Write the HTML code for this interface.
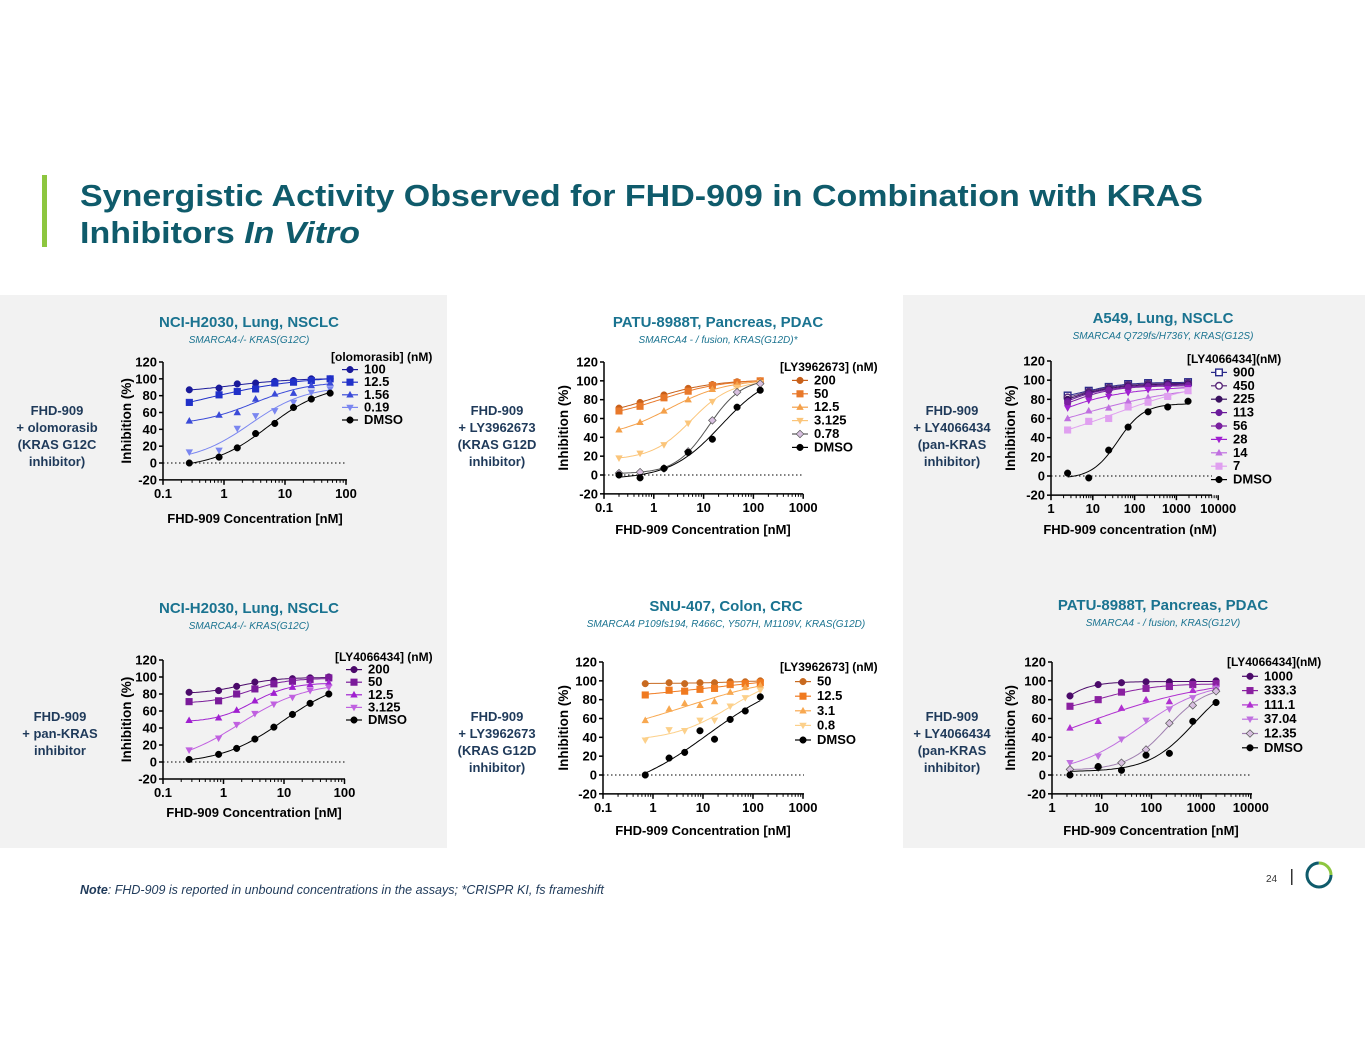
<!DOCTYPE html>
<html><head><meta charset="utf-8"><style>
html,body{margin:0;padding:0;background:#fff;}
svg{display:block;font-family:"Liberation Sans",Arial,sans-serif;}
</style></head><body>
<svg id="page" width="1365" height="1055" viewBox="0 0 1365 1055" xmlns="http://www.w3.org/2000/svg">
<rect x="0" y="295" width="447" height="553" fill="#f2f2f2"/>
<rect x="903" y="295" width="462" height="553" fill="#f2f2f2"/>
<rect x="42" y="175" width="5" height="72" fill="#8dc63f"/>
<g fill="#0f5b6b" font-weight="bold" font-size="31">
<text x="80" y="206" textLength="1123" lengthAdjust="spacingAndGlyphs">Synergistic Activity Observed for FHD-909 in Combination with KRAS</text>
<text x="80" y="243" textLength="280" lengthAdjust="spacingAndGlyphs">Inhibitors <tspan font-style="italic">In Vitro</tspan></text>
</g>
<text x="80" y="894" font-size="12.5" font-style="italic" fill="#1f3a5a"><tspan font-weight="bold">Note</tspan>: FHD-909 is reported in unbound concentrations in the assays; *CRISPR KI, fs frameshift</text>
<text x="1266" y="882" font-size="10" fill="#333">24</text>
<rect x="1291" y="869" width="1.5" height="16" fill="#333"/>
<g>
<circle cx="1319" cy="875" r="12" fill="none" stroke="#0f5b6b" stroke-width="3" stroke-dasharray="56 20"/>
<path d="M1319 863 A12 12 0 0 1 1331 875" fill="none" stroke="#8dc63f" stroke-width="3"/>
</g>
<g id="charts"></g>
</svg>
<script>
// ---------- DATA ----------
const p1X = [0.27,0.83,1.65,3.3,6.8,13.8,27,55];
const p1Labels = ["100","12.5","1.56","0.19","DMSO"];
const p1S100 = [87,89,94,95,97,98,100,100];
const p1S12 = [72,81,85,88,95,96,98,100];
const p1S156 = [50,57,60,76,82,83,92,95];
const p1S019 = [13,15,41,56,62,72,84,88];
const p1DMSO = [0,7,18,35,47,66,76,83];

const p2X = [0.2,0.53,1.6,4.9,15,47,137];
const p2Labels = ["200","50","12.5","3.125","0.78","DMSO"];
const p2S200 = [71,77,85,92,96,99,100];
const p2S50 = [68,73,82,89,95,98,100];
const p2S12 = [48,56,68,80,91,96,99];
const p2S3 = [18,23,32,55,78,93,98];
const p2S078 = [2,3,7,25,58,88,97];
const p2DMSO = [0,-3,7,24,38,72,90];

const p3X = [2.5,8,24,70,210,620,1900];
const p3Labels = ["900","450","225","113","56","28","14","7","DMSO"];
const p3S900 = [84,89,93,96,97,97,98];
const p3S450 = [82,88,92,95,96,96,97];
const p3S225 = [80,87,91,94,95,96,96];
const p3S113 = [78,86,90,93,94,95,95];
const p3S56 = [76,84,89,92,93,94,94];
const p3S28 = [71,79,83,87,90,91,92];
const p3S14 = [60,68,71,78,82,84,89];
const p3S7 = [48,57,60,72,77,83,89];
const p3DMSO = [3,-2,27,51,67,72,78];

const p4X = [0.27,0.83,1.65,3.3,6.8,13.8,27,55];
const p4Labels = ["200","50","12.5","3.125","DMSO"];
const p4S200 = [82,84,89,94,96,98,99,100];
const p4S50 = [71,72,80,86,92,95,97,99];
const p4S12 = [49,52,61,72,81,88,91,93];
const p4S3 = [14,28,44,57,68,76,84,88];
const p4DMSO = [3,9,16,27,41,56,69,80];

const p5X = [0.7,2.1,4.3,8.7,17,35,70,140];
const p5Labels = ["50","12.5","3.1","0.8","DMSO"];
const p5S50 = [97,98,97,98,98,99,99,100];
const p5S12 = [85,90,89,91,92,96,97,98];
const p5S3 = [58,70,76,74,78,88,93,95];
const p5S08 = [37,48,47,58,58,73,82,90];
const p5DMSO = [0,18,24,47,38,59,68,83];

const p6X = [2.3,8.5,25,78,230,680,2000];
const p6Labels = ["1000","333.3","111.1","37.04","12.35","DMSO"];
const p6S1000 = [84,96,98,99,99,99,100];
const p6S333 = [73,80,88,92,94,96,97];
const p6S111 = [50,57,71,80,78,90,93];
const p6S37 = [13,20,38,58,70,82,92];
const p6S12 = [6,8,13,27,55,74,89];
const p6DMSO = [0,9,5,21,23,57,77];

const yTicks = [-20,0,20,40,60,80,100,120];
const p1XTicks = ["0.1","1","10","100"];
const p2XTicks = ["0.1","1","10","100","1000"];
const p3XTicks = ["1","10","100","1000","10000"];

// ---------- DRAWING ----------
const NS="http://www.w3.org/2000/svg";
const root=document.getElementById('charts');
function mk(tag,attrs,parent){const e=document.createElementNS(NS,tag);for(const k in attrs)e.setAttribute(k,attrs[k]);(parent||root).appendChild(e);return e;}
function txt(s,attrs,parent){const e=mk('text',attrs,parent);e.textContent=s;return e;}

function marker(g,shape,x,y,col){
  let e;const r=3.3;
  if(shape==='c'||shape==='oc'){e=mk('circle',{cx:x,cy:y,r:r,fill:shape==='oc'?'#fff':col,stroke:col,'stroke-width':shape==='oc'?1.4:0.5},g);}
  else if(shape==='s'||shape==='os'){e=mk('rect',{x:x-r,y:y-r,width:2*r,height:2*r,fill:shape==='os'?'#fff':col,stroke:col,'stroke-width':shape==='os'?1.4:0.5},g);}
  else if(shape==='t'){e=mk('polygon',{points:`${x},${y-r-0.6} ${x-r-0.4},${y+r-0.6} ${x+r+0.4},${y+r-0.6}`,fill:col},g);}
  else if(shape==='v'){e=mk('polygon',{points:`${x},${y+r+0.6} ${x-r-0.4},${y-r+0.6} ${x+r+0.4},${y-r+0.6}`,fill:col},g);}
  else if(shape==='d'){e=mk('polygon',{points:`${x},${y-r-0.5} ${x+r+0.5},${y} ${x},${y+r+0.5} ${x-r-0.5},${y}`,fill:'#d8c0e0',stroke:'#555','stroke-width':0.7},g);}
  
  
  return e;
}
// 4-parameter logistic fit: grid over logEC50 & hill, linear LS for bottom/top
function fit4pl(xv,yv){
  const lx=xv.map(v=>Math.log10(v));
  const lo=lx[0]-2,hi=lx[lx.length-1]+2;
  let best=null;
  for(let c=lo;c<=hi;c+=0.05){
    for(let h=0.3;h<=2.5;h+=0.05){
      const s=lx.map(l=>1/(1+Math.pow(10,(c-l)*h)));
      let n=s.length,Ss=0,Sss=0,Sy=0,Ssy=0;
      for(let i=0;i<n;i++){Ss+=s[i];Sss+=s[i]*s[i];Sy+=yv[i];Ssy+=s[i]*yv[i];}
      const den=n*Sss-Ss*Ss; if(Math.abs(den)<1e-9)continue;
      const a=(n*Ssy-Ss*Sy)/den, b=(Sy-a*Ss)/n; // y=b+a*s
      let top=b+a; if(top>110||b<-30)continue;
      let err=0;for(let i=0;i<n;i++){const d=b+a*s[i]-yv[i];err+=d*d;}
      if(!best||err<best.err)best={err,c,h,b,a};
    }
  }
  return l=>best.b+best.a/(1+Math.pow(10,(best.c-l)*best.h));
}

function drawChart(cfg){
  const g=mk('g',{});
  
  
  const xs=v=>cfg.ax+(Math.log10(v)-cfg.lmin)*cfg.dec;
  const xl10=l=>cfg.ax+(l-cfg.lmin)*cfg.dec;
  const ys=v=>cfg.y0-(v)*(cfg.y0-cfg.y120)/120;
  const t=txt(cfg.title,{x:cfg.tcx,y:cfg.ty,'text-anchor':'middle','font-size':15,'font-weight':'bold',fill:'#1a7390'},g);
  
  const st=txt(cfg.sub,{x:cfg.tcx,y:cfg.ty+16,'text-anchor':'middle','font-size':10,'font-style':'italic',fill:'#1a7390'},g);
  
  const sl=mk('g',{},g);
  cfg.side.forEach((s,i)=>txt(s,{x:cfg.scx,y:cfg.sy+i*17,'text-anchor':'middle','font-size':13,'font-weight':'bold',fill:'#1f3a5a'},sl));
  const yb=ys(-20), xe=cfg.axEnd;
  const ax=mk('g',{stroke:'#000','stroke-width':1.5},g);
  mk('line',{x1:cfg.ax,y1:ys(120),x2:cfg.ax,y2:yb},ax);
  mk('line',{x1:cfg.ax,y1:yb,x2:xe,y2:yb},ax);
  yTicks.forEach(v=>{mk('line',{x1:cfg.ax-4,y1:ys(v),x2:cfg.ax,y2:ys(v)},ax);
    const tl=txt(String(v),{x:cfg.ax-6,y:ys(v)+4.5,'text-anchor':'end','font-size':13,'font-weight':'bold',fill:'#000',stroke:'none'},g);
    });
  cfg.xticks.forEach((lab,i)=>{const px=cfg.ax+i*cfg.dec;
    mk('line',{x1:px,y1:yb,x2:px,y2:yb+5},ax);
    if(i<cfg.xticks.length-1){for(let m=2;m<10;m++){const mx=px+Math.log10(m)*cfg.dec;mk('line',{x1:mx,y1:yb,x2:mx,y2:yb+3,'stroke-width':1},ax);}}
    const tl=txt(lab,{x:px,y:yb+18,'text-anchor':'middle','font-size':13,'font-weight':'bold',fill:'#000',stroke:'none'},g);
    });
  mk('line',{x1:cfg.ax,y1:ys(0),x2:xe,y2:ys(0),stroke:'#000','stroke-width':1,'stroke-dasharray':'1.5 2.5'},g);
  const yl=txt('Inhibition (%)',{x:0,y:0,transform:`translate(${cfg.ylx},${(ys(120)+yb)/2}) rotate(-90)`,'text-anchor':'middle','font-size':13.5,'font-weight':'bold'},g);
  
  const xl=txt(cfg.xlabel,{x:cfg.xlx,y:cfg.xly,'text-anchor':'middle','font-size':13,'font-weight':'bold'},g);
  
  cfg.series.forEach((vals,si)=>{
    const col=cfg.colors[si],sh=cfg.shapes[si];
    const sg=mk('g',{},g);
    const f=fit4pl(cfg.x,vals);
    const l0=Math.log10(cfg.x[0]),l1=Math.log10(cfg.x[cfg.x.length-1]);
    let d='';
    for(let k=0;k<=60;k++){const l=l0+(l1-l0)*k/60;d+=(k?'L':'M')+xl10(l).toFixed(1)+','+ys(f(l)).toFixed(1);}
    const ln=mk('path',{d:d,fill:'none',stroke:col==='#fff'?'#555':col,'stroke-width':1},sg);
    
    cfg.x.forEach((xv,i)=>marker(sg,sh,xs(xv),ys(vals[i]),col));
  });
  const lg=mk('g',{},g);
  txt(cfg.legTitle,{x:cfg.lx,y:cfg.ly,'font-size':12,'font-weight':'bold'},lg);
  cfg.labels.forEach((lab,i)=>{const yy=cfg.ly+cfg.lgap*(i+1);
    const le=mk('g',{},lg);
    mk('line',{x1:cfg.mx-8,y1:yy-4,x2:cfg.mx+8,y2:yy-4,stroke:cfg.colors[i],'stroke-width':1.2},le);
    marker(le,cfg.shapes[i],cfg.mx,yy-4,cfg.colors[i]);
    txt(lab,{x:cfg.mx+14,y:yy,'font-size':13,'font-weight':'bold'},le);});
}

const blue=['#1a1a9a','#2030c8','#3a4ad8','#7a86f0','#000'];
const orange5=['#c86a20','#f07a20','#f8a850','#fcd08a','#000'];
const purple3=['#2a2a8a','#5a2a7a','#3a1060','#6a1a9a','#7a20a0','#a020d0','#c070e0','#e0a0f0','#000'];
const purple4=['#4b0a6a','#7a1a9a','#a020d0','#c060e0','#000'];
const purple6=['#4b0a6a','#8a20a0','#b030d0','#c070e0','#a080b0','#000'];

drawChart({name:'chart-nci-h2030-olomorasib',title:'NCI-H2030, Lung, NSCLC',sub:'SMARCA4-/- KRAS(G12C)',tcx:249,ty:327,
 side:['FHD-909','+ olomorasib','(KRAS G12C','inhibitor)'],scx:57,sy:415,
 ax:163,axEnd:347,lmin:-1,dec:61,y0:463,y120:362,xticks:p1XTicks,ylx:131,xlabel:'FHD-909 Concentration [nM]',xlx:255,xly:523,
 x:p1X,series:[p1S100,p1S12,p1S156,p1S019,p1DMSO],labels:p1Labels,colors:blue,shapes:['c','s','t','v','c'],
 legTitle:'[olomorasib] (nM)',lx:331,ly:361,lgap:12.6,mx:350});
drawChart({name:'chart-patu-8988t-ly3962673',title:'PATU-8988T, Pancreas, PDAC',sub:'SMARCA4 - / fusion, KRAS(G12D)*',tcx:718,ty:327,
 side:['FHD-909','+ LY3962673','(KRAS G12D','inhibitor)'],scx:497,sy:415,
 ax:604,axEnd:803,lmin:-1,dec:49.8,y0:475,y120:362,xticks:p2XTicks,ylx:568,xlabel:'FHD-909 Concentration [nM]',xlx:703,xly:534,
 x:p2X,series:[p2S200,p2S50,p2S12,p2S3,p2S078,p2DMSO],labels:p2Labels,colors:['#c8601a','#e8782a','#f4a04a','#fbc57a','#555','#000'],shapes:['c','s','t','v','d','c'],
 legTitle:'[LY3962673] (nM)',lx:780,ly:371,lgap:13.4,mx:800});
drawChart({name:'chart-a549-ly4066434',title:'A549, Lung, NSCLC',sub:'SMARCA4 Q729fs/H736Y, KRAS(G12S)',tcx:1163,ty:323,
 side:['FHD-909','+ LY4066434','(pan-KRAS','inhibitor)'],scx:952,sy:415,
 ax:1051,axEnd:1212,lmin:0,dec:41.8,y0:476,y120:361,xticks:p3XTicks,ylx:1015,xlabel:'FHD-909 concentration (nM)',xlx:1130,xly:534,
 x:p3X,series:[p3S900,p3S450,p3S225,p3S113,p3S56,p3S28,p3S14,p3S7,p3DMSO],labels:p3Labels,colors:purple3,shapes:['os','oc','c','c','c','v','t','s','c'],
 legTitle:'[LY4066434](nM)',lx:1187,ly:363,lgap:13.4,mx:1219});
drawChart({name:'chart-nci-h2030-ly4066434',title:'NCI-H2030, Lung, NSCLC',sub:'SMARCA4-/- KRAS(G12C)',tcx:249,ty:613,
 side:['FHD-909','+ pan-KRAS','inhibitor'],scx:60,sy:721,
 ax:163,axEnd:345,lmin:-1,dec:60.5,y0:762,y120:660,xticks:p1XTicks,ylx:131,xlabel:'FHD-909 Concentration [nM]',xlx:254,xly:817,
 x:p4X,series:[p4S200,p4S50,p4S12,p4S3,p4DMSO],labels:p4Labels,colors:purple4,shapes:['c','s','t','v','c'],
 legTitle:'[LY4066434] (nM)',lx:335,ly:661,lgap:12.6,mx:354});
drawChart({name:'chart-snu-407-ly3962673',title:'SNU-407, Colon, CRC',sub:'SMARCA4 P109fs194, R466C, Y507H, M1109V, KRAS(G12D)',tcx:726,ty:611,
 side:['FHD-909','+ LY3962673','(KRAS G12D','inhibitor)'],scx:497,sy:721,
 ax:603,axEnd:804,lmin:-1,dec:50,y0:775,y120:662,xticks:p2XTicks,ylx:568,xlabel:'FHD-909 Concentration [nM]',xlx:703,xly:835,
 x:p5X,series:[p5S50,p5S12,p5S3,p5S08,p5DMSO],labels:p5Labels,colors:orange5,shapes:['c','s','t','v','c'],
 legTitle:'[LY3962673] (nM)',lx:780,ly:671,lgap:14.6,mx:803});
drawChart({name:'chart-patu-8988t-ly4066434',title:'PATU-8988T, Pancreas, PDAC',sub:'SMARCA4 - / fusion, KRAS(G12V)',tcx:1163,ty:610,
 side:['FHD-909','+ LY4066434','(pan-KRAS','inhibitor)'],scx:952,sy:721,
 ax:1052,axEnd:1252,lmin:0,dec:49.7,y0:775,y120:662,xticks:p3XTicks,ylx:1015,xlabel:'FHD-909 Concentration [nM]',xlx:1151,xly:835,
 x:p6X,series:[p6S1000,p6S333,p6S111,p6S37,p6S12,p6DMSO],labels:p6Labels,colors:purple6,shapes:['c','s','t','v','d','c'],
 legTitle:'[LY4066434](nM)',lx:1227,ly:666,lgap:14.3,mx:1250});
</script>
</body></html>
